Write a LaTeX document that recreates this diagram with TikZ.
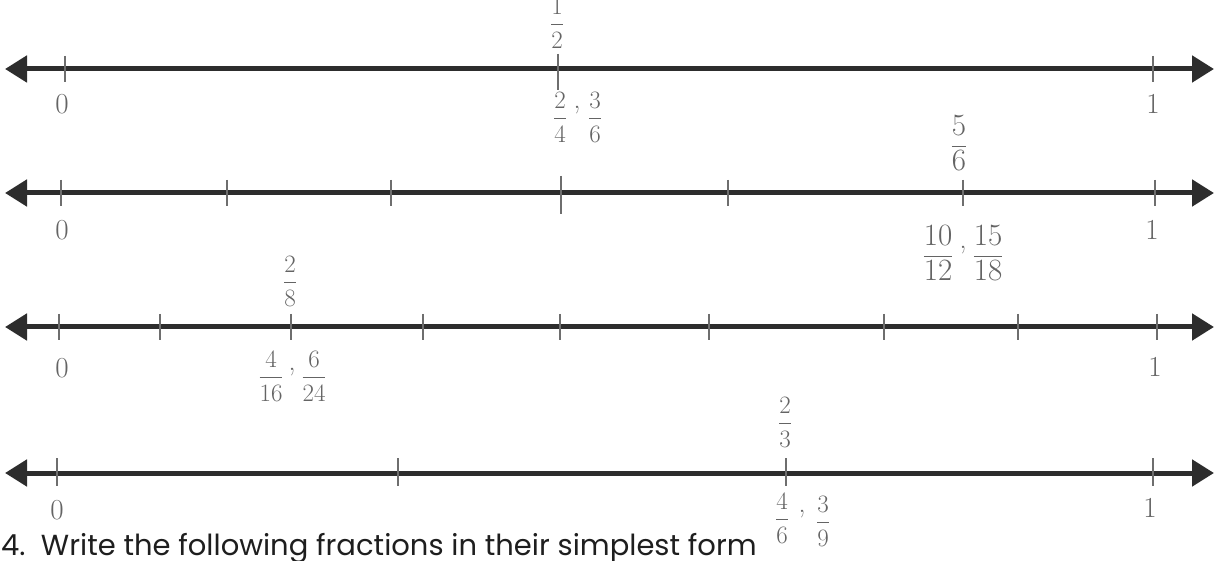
\documentclass[tikz,border=0pt]{standalone}
\usepackage{fontspec}
\usepackage{amsmath}
\setsansfont{Poppins}
\usetikzlibrary{arrows.meta}
\definecolor{axisc}{RGB}{45,45,45}
\definecolor{pencil}{RGB}{100,100,100}
\definecolor{tickc}{RGB}{110,110,110}
\definecolor{printc}{RGB}{30,30,30}
\newcommand\hfr[2]{$\genfrac{}{}{1pt}{0}{\mbox{#1}}{\mbox{#2}}$}
\begin{document}
\begin{tikzpicture}[x=1pt,y=-1pt,
  axis/.style={line width=5pt, draw=axisc,
    {Triangle[length=22pt,width=26pt]}-{Triangle[length=22pt,width=26pt]}},
  tickmark/.style={line width=1.2pt, draw=tickc},
  endlbl/.style={text=pencil, font=\fontsize{29}{31}\selectfont, inner sep=0pt},
  frlbl/.style={text=pencil, font=\fontsize{25}{28}\selectfont, inner sep=0pt},
  bigfr/.style={text=pencil, font=\fontsize{31}{34}\selectfont, inner sep=0pt},
  comma/.style={text=pencil, font=\fontsize{28}{30}\selectfont, inner sep=0pt},
  printed/.style={text=printc, font=\sffamily\fontsize{29}{32}\selectfont, inner sep=0pt, anchor=base west},
]
\useasboundingbox (0,0) rectangle (1219,561);
\clip (0,0) rectangle (1219,561);
\fill[white] (0,0) rectangle (1219,561);

% ---------- line 1 ----------
\coordinate (a1) at (5,69);
\coordinate (b1) at (1214,69);
\draw[axis] (a1) -- (b1);
\foreach \x in {65,1153} \draw[tickmark] (\x,56) -- (\x,82);
\draw[tickmark] (558,54) -- (558,90);
\node[endlbl] (z1) at (62,104) {0};
\node[endlbl] (o1) at (1153,104) {1};
\node[frlbl] (h1) at (557,23) {\hfr{1}{2}};
\node[frlbl] (e1a) at (560,117) {\hfr{2}{4}};
\node[comma] (c1) at (577,110) {,};
\node[frlbl] (e1b) at (595,117) {\hfr{3}{6}};

% ---------- line 2 ----------
\coordinate (a2) at (5,193);
\coordinate (b2) at (1214,193);
\draw[axis] (a2) -- (b2);
\foreach \x in {61,227,391,728,963,1155} \draw[tickmark] (\x,180) -- (\x,206);
\draw[tickmark] (561,176) -- (561,214);
\node[bigfr] (h2) at (959,143) {\hfr{5}{6}};
\node[endlbl] (z2) at (62,230) {0};
\node[endlbl] (o2) at (1152,230) {1};
\node[bigfr] (e2a) at (938,253) {\hfr{10}{12}};
\node[comma] (c2) at (963,250) {,};
\node[bigfr] (e2b) at (988,253) {\hfr{15}{18}};

% ---------- line 3 ----------
\coordinate (a3) at (5,327);
\coordinate (b3) at (1214,327);
\draw[axis] (a3) -- (b3);
\foreach \x in {59,160,291,423,560,709,884,1018,1157} \draw[tickmark] (\x,314) -- (\x,340);
\node[endlbl] (z3) at (62,368) {0};
\node[endlbl] (o3) at (1155,367) {1};
\node[frlbl] (h3) at (290,281) {\hfr{2}{8}};
\node[frlbl] (e3a) at (271,376) {\hfr{4}{16}};
\node[comma] (c3) at (292,372) {,};
\node[frlbl] (e3b) at (314,376) {\hfr{6}{24}};

% ---------- line 4 ----------
\coordinate (a4) at (5,473);
\coordinate (b4) at (1214,473);
\draw[axis] (a4) -- (b4);
\foreach \x in {57,398,786,1153} \draw[tickmark] (\x,458) -- (\x,486);
\node[endlbl] (z4) at (57,510) {0};
\node[endlbl] (o4) at (1150,508) {1};
\node[frlbl] (h4) at (785,422) {\hfr{2}{3}};
\node[frlbl] (e4a) at (782,518) {\hfr{4}{6}};
\node[comma] (c4) at (802,514) {,};
\node[frlbl] (e4b) at (823,521) {\hfr{3}{9}};

% ---------- printed question ----------
\node[printed] (q4) at (1,555) {4.\ \ Write the following fractions in their simplest form};
\end{tikzpicture}
\end{document}
